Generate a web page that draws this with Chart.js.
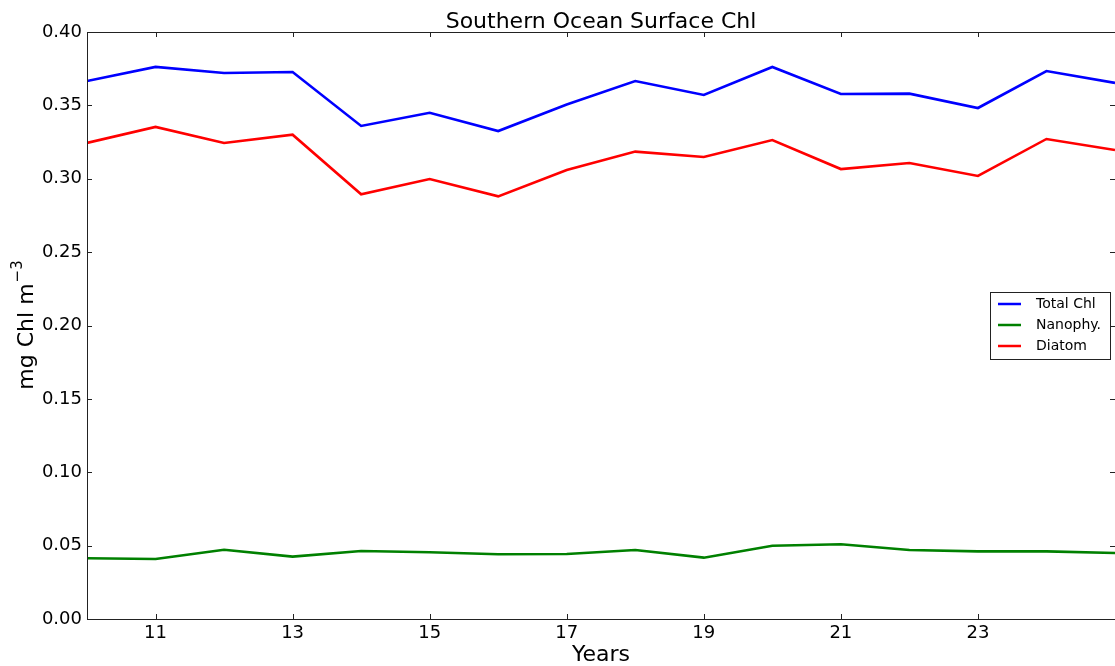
<!DOCTYPE html>
<html>
<head>
<meta charset="utf-8">
<script src="https://cdn.jsdelivr.net/npm/chart.js@4/dist/chart.umd.min.js"></script>
<style>
  html, body { margin: 0; padding: 0; background: #fff; }
  canvas { display: block; }
</style>
</head>
<body>
<canvas id="chl" width="1115" height="666"></canvas>
<script>
// Southern Ocean surface chlorophyll, yearly means
const years = [10, 11, 12, 13, 14, 15, 16, 17, 18, 19, 20, 21, 22, 23, 24, 25];
const totalChl = [0.3666, 0.3762, 0.3721, 0.3727, 0.3360, 0.3450, 0.3325, 0.3506, 0.3666, 0.3571, 0.3762, 0.3578, 0.3580, 0.3482, 0.3734, 0.3653];
const nanophy  = [0.0414, 0.0409, 0.0472, 0.0425, 0.0463, 0.0455, 0.0441, 0.0443, 0.0470, 0.0418, 0.0499, 0.0509, 0.0470, 0.0461, 0.0461, 0.0450];
const diatom   = [0.3244, 0.3353, 0.3244, 0.3300, 0.2894, 0.2998, 0.2880, 0.3060, 0.3185, 0.3148, 0.3264, 0.3066, 0.3107, 0.3019, 0.3271, 0.3196];

const xTicks = [11, 13, 15, 17, 19, 21, 23];
const yTicks = [0, 0.05, 0.10, 0.15, 0.20, 0.25, 0.30, 0.35, 0.40];

const FONT = "'DejaVu Sans', sans-serif";

function points(vals) {
  return years.map((y, i) => ({ x: y, y: vals[i] }));
}

// frame, inward ticks, title, axis labels and legend box
const decorations = {
  id: 'decorations',
  afterDraw(chart) {
    const ctx = chart.ctx;
    const a = chart.chartArea;
    const xs = chart.scales.x, ys = chart.scales.y;
    ctx.save();

    ctx.strokeStyle = '#222';
    ctx.lineWidth = 1;
    ctx.strokeRect(a.left + 0.5, a.top + 0.5, a.right - a.left, a.bottom - a.top);

    ctx.beginPath();
    yTicks.forEach(v => {
      const py = Math.round(ys.getPixelForValue(v)) + 0.5;
      ctx.moveTo(a.left, py); ctx.lineTo(a.left + 5, py);
      ctx.moveTo(a.right, py); ctx.lineTo(a.right - 5, py);
    });
    xTicks.forEach(v => {
      const px = Math.round(xs.getPixelForValue(v)) + 0.5;
      ctx.moveTo(px, a.bottom); ctx.lineTo(px, a.bottom - 5);
      ctx.moveTo(px, a.top); ctx.lineTo(px, a.top + 5);
    });
    ctx.stroke();

    ctx.fillStyle = '#000';
    ctx.textAlign = 'center';
    ctx.textBaseline = 'alphabetic';
    const cx = (a.left + a.right) / 2;
    ctx.font = '22px ' + FONT;
    ctx.fillText('Southern Ocean Surface Chl', cx, 28);
    ctx.fillText('Years', cx, 661);

    // y label with superscript exponent
    const cy = (a.top + a.bottom) / 2;
    ctx.translate(33, cy);
    ctx.rotate(-Math.PI / 2);
    ctx.font = '22px ' + FONT;
    const main = 'mg Chl m';
    const wMain = ctx.measureText(main).width;
    ctx.font = '15px ' + FONT;
    const sup = '\u22123';
    const wSup = ctx.measureText(sup).width;
    const start = -(wMain + wSup) / 2;
    ctx.textAlign = 'left';
    ctx.font = '22px ' + FONT;
    ctx.fillText(main, start, 0);
    ctx.font = '15px ' + FONT;
    ctx.fillText(sup, start + wMain + 1, -11);
    ctx.setTransform(1, 0, 0, 1, 0, 0);

    // legend
    const lx = 990, ly = 292, lw = 120, lh = 67;
    ctx.fillStyle = '#fff';
    ctx.fillRect(lx, ly, lw, lh);
    ctx.strokeStyle = '#222';
    ctx.strokeRect(lx + 0.5, ly + 0.5, lw, lh);
    ctx.font = '14px ' + FONT;
    ctx.textBaseline = 'middle';
    chart.data.datasets.forEach((ds, i) => {
      const yy = ly + 12 + i * 21;
      ctx.strokeStyle = ds.borderColor;
      ctx.lineWidth = 2.5;
      ctx.beginPath();
      ctx.moveTo(lx + 8, yy); ctx.lineTo(lx + 31, yy);
      ctx.stroke();
      ctx.fillStyle = '#000';
      ctx.fillText(ds.label, lx + 46, yy);
    });
    ctx.restore();
  }
};

new Chart(document.getElementById('chl'), {
  type: 'line',
  data: {
    datasets: [
      { label: 'Total Chl', data: points(totalChl), borderColor: '#0000ff' },
      { label: 'Nanophy.', data: points(nanophy), borderColor: '#008000' },
      { label: 'Diatom', data: points(diatom), borderColor: '#ff0000' }
    ]
  },
  options: {
    responsive: false,
    animation: false,
    events: [],
    layout: { padding: { top: 32, left: 0, right: 0, bottom: 0 } },
    elements: {
      line: { borderWidth: 2.6, tension: 0, fill: false },
      point: { radius: 0 }
    },
    scales: {
      x: {
        type: 'linear',
        min: years[0],
        max: years[years.length - 1],
        afterBuildTicks: s => { s.ticks = xTicks.map(v => ({ value: v })); },
        afterFit: s => { s.height = 47; },
        grid: { display: false, drawTicks: false, tickLength: 0 },
        border: { display: false },
        ticks: {
          font: { family: FONT, size: 18 },
          color: '#000',
          padding: 4,
          maxRotation: 0,
          autoSkip: false
        }
      },
      y: {
        min: 0,
        max: 0.4,
        afterBuildTicks: s => { s.ticks = yTicks.map(v => ({ value: v })); },
        afterFit: s => { s.width = 87; },
        grid: { display: false, drawTicks: false, tickLength: 0 },
        border: { display: false },
        ticks: {
          font: { family: FONT, size: 18 },
          color: '#000',
          padding: 5,
          callback: v => v.toFixed(2)
        }
      }
    },
    plugins: {
      legend: { display: false },
      title: { display: false },
      tooltip: { enabled: false }
    }
  },
  plugins: [decorations]
});
</script>
</body>
</html>
